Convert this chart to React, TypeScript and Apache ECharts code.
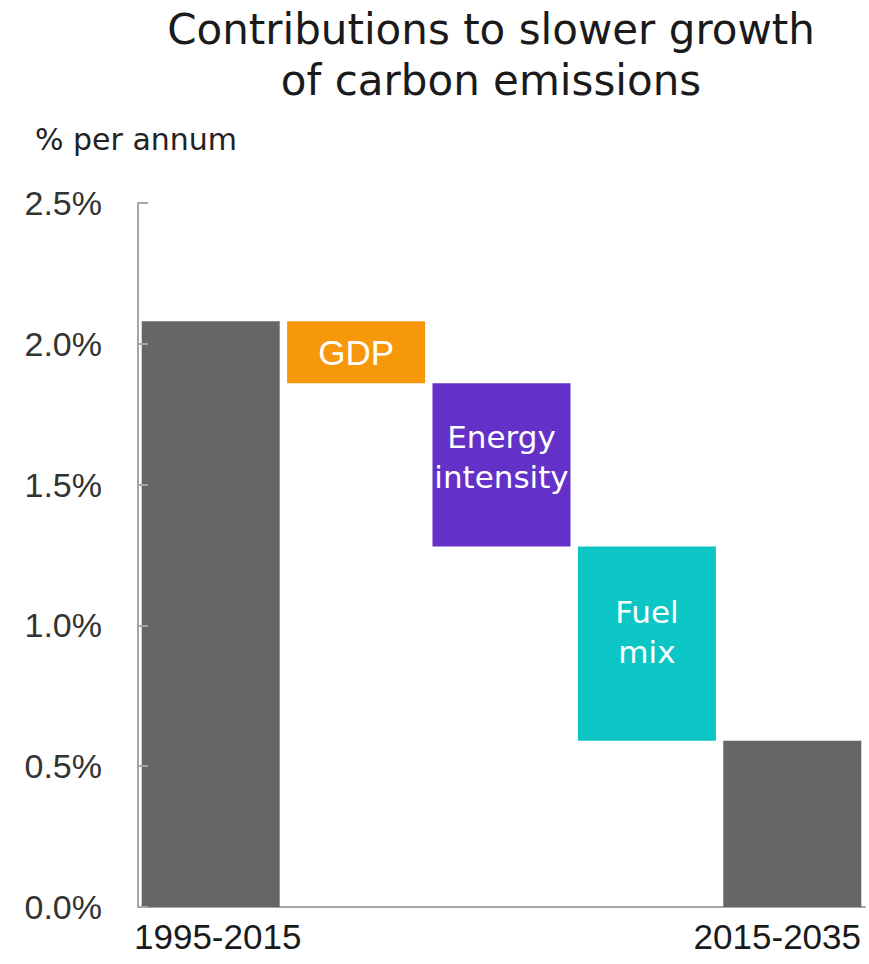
import React, { useEffect, useRef } from "react";
import * as echarts from "echarts";

// Waterfall: carbon emissions growth, 1995-2015 vs 2015-2035, and the drivers of the slowdown
const categories = ["1995-2015", "GDP", "Energy intensity", "Fuel mix", "2015-2035"];
const startGrowth = 2.08; // % per annum, 1995-2015
const driverLabels = ["GDP", "Energy\nintensity", "Fuel\nmix"];
const driverDeltas = [-0.22, -0.58, -0.69]; // percentage-point contributions
const endGrowth = 0.59; // % per annum, 2015-2035
const yMin = 0;
const yMax = 2.5;
const yStep = 0.5;

const GRAY = "#666666";
const driverColors = ["#F7980B", "#6331C8", "#0CC6C6"];
const AXIS = "#a6a6a6";

export default function App() {
  const ref = useRef<HTMLDivElement>(null);

  useEffect(() => {
    if (!ref.current) return;
    const chart = echarts.init(ref.current, null, { renderer: "svg" });

    // running totals give the invisible base of each floating bar
    const bases: number[] = [0];
    const heights: any[] = [
      { value: startGrowth, itemStyle: { color: GRAY } },
    ];
    let level = startGrowth;
    driverDeltas.forEach((d, i) => {
      level += d;
      bases.push(level);
      heights.push({
        value: -d,
        itemStyle: { color: driverColors[i] },
        label: {
          show: true,
          position: "inside",
          formatter: driverLabels[i],
          color: "#ffffff",
          fontFamily: i === 0 ? "'Liberation Sans Narrow', 'Liberation Sans', Arial" : "'DejaVu Sans'",
          fontSize: i === 0 ? 35 : 31,
          lineHeight: 40,
          offset: [0, i === 0 ? 0 : i === 1 ? -8 : -12],
        },
      });
    });
    bases.push(0);
    heights.push({ value: endGrowth, itemStyle: { color: GRAY } });

    chart.setOption({
      animation: false,
      backgroundColor: "#ffffff",
      title: {
        text: "Contributions to slower growth\nof carbon emissions",
        left: 491,
        top: 4,
        padding: 0,
        textAlign: "center",
        textStyle: {
          fontFamily: "'DejaVu Sans'",
          fontSize: 42,
          fontWeight: "normal",
          lineHeight: 51,
          color: "#1a1a1a",
        },
      },
      graphic: [
        {
          type: "text",
          left: 35,
          top: 124,
          style: {
            text: "% per annum",
            font: "30px 'DejaVu Sans'",
            fill: "#222222",
          },
        },
      ],
      grid: { left: 138, right: 4, top: 203, bottom: 57 },
      xAxis: {
        type: "category",
        data: categories.map((c, i) =>
          i === 0
            ? { value: c, textStyle: { padding: [0, 0, 0, 14] } }
            : i === categories.length - 1
            ? { value: c, textStyle: { padding: [0, 30, 0, 0] } }
            : c
        ),
        axisLine: { show: true, lineStyle: { color: AXIS, width: 2 } },
        axisTick: { show: false },
        axisLabel: {
          interval: (index: number) => index === 0 || index === categories.length - 1,
          margin: 12,
          fontFamily: "'Liberation Sans', Arial",
          fontSize: 35,
          color: "#1a1a1a",
        },
      },
      yAxis: {
        type: "value",
        min: yMin,
        max: yMax,
        interval: yStep,
        z: 3,
        axisLine: { show: true, lineStyle: { color: AXIS, width: 2 } },
        axisTick: { show: true, inside: true, length: 10, lineStyle: { color: AXIS, width: 2 } },
        splitLine: { show: false },
        axisLabel: {
          margin: 36,
          fontFamily: "'Liberation Sans', Arial",
          fontSize: 34,
          color: "#333333",
          formatter: (v: number) => v.toFixed(1) + "%",
        },
      },
      series: [
        {
          type: "bar",
          stack: "waterfall",
          barWidth: 138,
          silent: true,
          itemStyle: { color: "transparent" },
          data: bases,
        },
        {
          type: "bar",
          stack: "waterfall",
          barWidth: 138,
          data: heights,
        },
      ],
    });

    return () => chart.dispose();
  }, []);

  return (
    <div
      ref={ref}
      style={{ position: "fixed", left: 0, top: 0, width: 869, height: 964 }}
    />
  );
}
